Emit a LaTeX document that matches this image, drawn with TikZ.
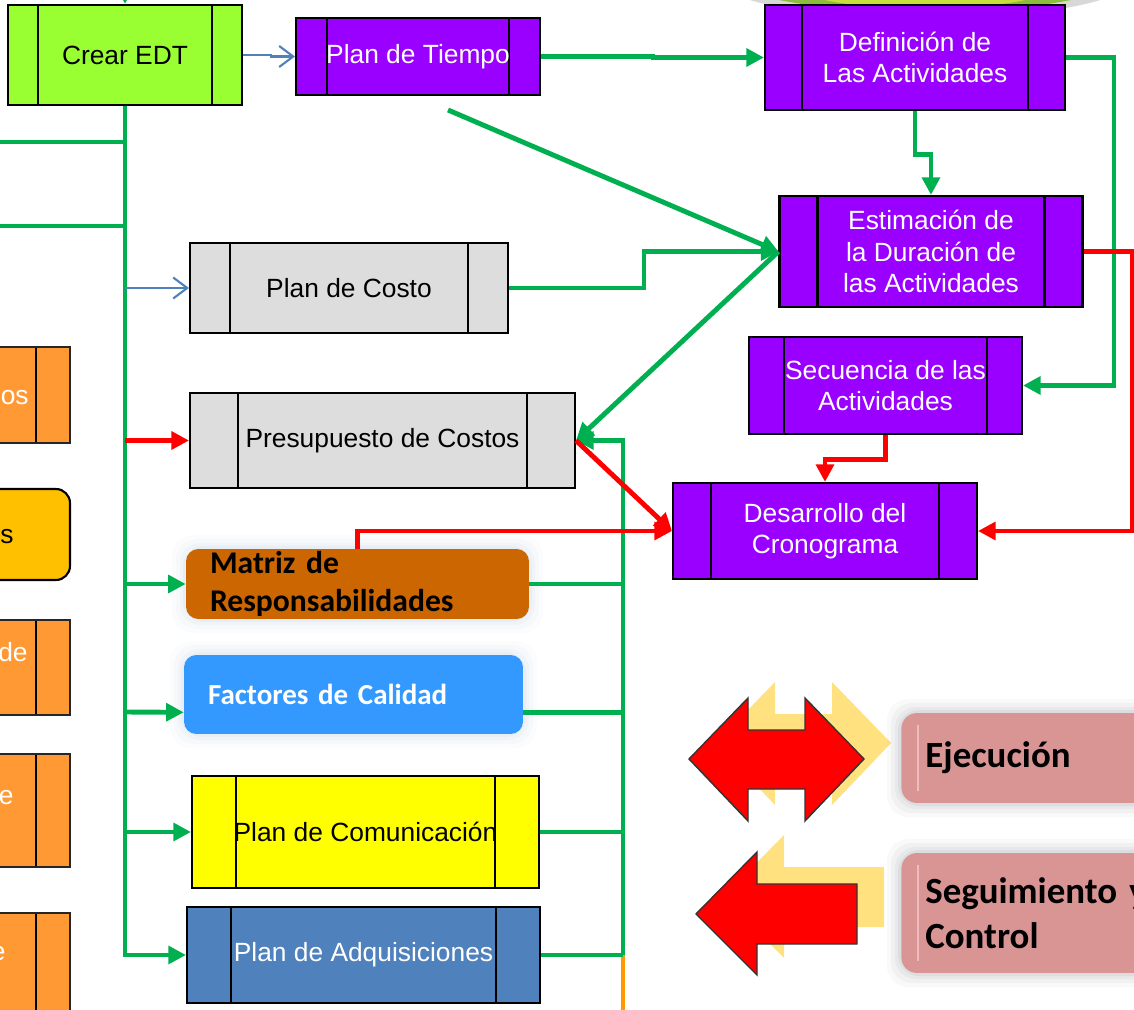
\documentclass[tikz,border=0pt]{standalone}
\usepackage{fontspec}
\setmainfont{Liberation Sans}
\newfontfamily\arialf{Liberation Sans}
\newfontfamily\calib{Carlito}
\usetikzlibrary{arrows.meta}
\definecolor{cGreen}{HTML}{00B050}
\definecolor{cRed}{HTML}{FF0000}
\definecolor{cBlue}{HTML}{4F81BD}
\definecolor{cPurp}{HTML}{9900FF}
\definecolor{cLime}{HTML}{99FF33}
\definecolor{cGray}{HTML}{DDDDDD}
\definecolor{cYel}{HTML}{FFFF00}
\definecolor{cBrn}{HTML}{CC6600}
\definecolor{cSky}{HTML}{3399FF}
\definecolor{cOrg}{HTML}{FF9933}
\definecolor{cGold}{HTML}{FFC000}
\definecolor{cPink}{HTML}{D99594}
\definecolor{cPinkL}{HTML}{ECBDBC}
\definecolor{cShad}{HTML}{FFE17F}
\definecolor{cOrLine}{HTML}{FF9900}
\definecolor{cGlowB}{HTML}{B8C8E0}
\definecolor{cGlowG}{HTML}{8C949C}
\definecolor{cBlobIn}{HTML}{C8DC3C}
\definecolor{cBlobOut}{HTML}{8DBB3E}
\newcommand\myglow[5]{%
  \foreach \r/\o in {14/0.05,10/0.07,6/0.09,3/0.12}{%
    \fill[#5,opacity=\o,rounded corners=12pt] (#1-\r,#2-\r) rectangle (#3+\r,#4+\r);}}
\begin{document}
\begin{tikzpicture}[x=0.02cm,y=-0.02cm,
  proc/.style={draw=black, line width=1.2pt, inner sep=0pt, align=center,
    font=\arialf\fontsize{15}{18}\selectfont,
    path picture={\draw[black,line width=1.2pt]
      ([xshift=#1]path picture bounding box.north west) -- ([xshift=#1]path picture bounding box.south west)
      ([xshift=-#1]path picture bounding box.north east) -- ([xshift=-#1]path picture bounding box.south east);}},
  lpart/.style={draw=black!85, line width=1.2pt, fill=cOrg, inner sep=0pt,
    path picture={\draw[black,line width=1.2pt]
      ([xshift=-#1]path picture bounding box.north east) -- ([xshift=-#1]path picture bounding box.south east);}},
  ltext/.style={anchor=base east, inner sep=0pt, font=\arialf\fontsize{15}{18}\selectfont},
  rbox/.style={rounded corners=7pt, inner xsep=0.48cm, inner ysep=0pt, align=left},
  pinkbox/.style={fill=cPink, rounded corners=9pt, inner xsep=0.48cm, inner ysep=0pt, align=left,
    font=\calib\bfseries\fontsize{21}{25.5}\selectfont},
  g/.style={draw=cGreen, line width=2.8pt},
  ga/.style={g, -{Triangle[length=10pt,width=10pt]}},
  r/.style={draw=cRed, line width=2.8pt},
  ra/.style={r, -{Triangle[length=10pt,width=10pt]}},
  ba/.style={draw=cBlue, line width=1.2pt, -{Straight Barb[length=8pt,width=12pt]}},
]
\path[use as bounding box] (0,0) rectangle (1134,1010);
\clip (0,0) rectangle (1134,1010);
\fill[white] (0,0) rectangle (1134,1010);

% blob at top
\fill[gray,opacity=0.3] (925,-26) ellipse [x radius=4.3cm, y radius=0.9cm];
\fill[cBlobOut] (925,-26) ellipse [x radius=4cm, y radius=0.76cm];
\fill[cBlobIn] (925,-26) ellipse [x radius=3cm, y radius=0.7cm];

% left partial boxes
\node[lpart=0.68cm, minimum width=2.2cm, minimum height=1.92cm] (l1) at (15,395) {};
\node[draw=black, line width=1.2pt, fill=cGold, rounded corners=8pt, inner sep=0pt,
      minimum width=2.2cm, minimum height=1.82cm] (l2) at (15,534.5) {};
\node[lpart=0.68cm, minimum width=2.2cm, minimum height=1.9cm] (l3) at (15,667.5) {};
\node[lpart=0.68cm, minimum width=2.2cm, minimum height=2.26cm] (l4) at (15,810.5) {};
\node[lpart=0.68cm, minimum width=2.2cm, minimum height=2.34cm] (l5) at (15,971.5) {};
\node[ltext, text=white] (t1) at (29,405) {os};
\node[ltext, text=black] (t2) at (14,543) {os};
\node[ltext, text=white] (t3) at (28,662) {de};
\node[ltext, text=white] (t4) at (14,804) {e};
\node[ltext, text=white] (t5) at (6,960) {e};

% process boxes
\node[proc=0.6cm, fill=cLime, minimum width=4.68cm, minimum height=2cm] (edt) at (125,55) {Crear EDT};
\node[proc=0.62cm, fill=cPurp, text=white, minimum width=4.88cm, minimum height=1.54cm] (tiempo) at (418,56.5) {Plan de Tiempo};
\node[proc=0.74cm, fill=cPurp, text=white, minimum width=6cm, minimum height=2.1cm] (defin) at (915,57.5) {Definición de\\Las Actividades};
\node[proc=0.76cm, fill=cPurp, text=white, minimum width=6.06cm, minimum height=2.22cm] (estim) at (931,251.5) {Estimación de\\la Duración de\\las Actividades};
\node[proc=0.8cm, fill=cGray, minimum width=6.36cm, minimum height=1.8cm] (costo) at (349,288) {Plan de Costo};
\node[proc=0.96cm, fill=cGray, minimum width=7.7cm, minimum height=1.9cm] (presup) at (382.5,440.5) {Presupuesto de Costos};
\node[proc=0.7cm, fill=cPurp, text=white, minimum width=5.46cm, minimum height=1.94cm] (secuen) at (885.5,385.5) {Secuencia de las\\Actividades};
\node[proc=0.76cm, fill=cPurp, text=white, minimum width=6.08cm, minimum height=1.92cm] (desarr) at (825,531) {Desarrollo del\\Cronograma};
\node[proc=0.88cm, fill=cYel, minimum width=6.94cm, minimum height=2.24cm] (comun) at (365.5,832) {Plan de Comunicación};
\node[proc=0.88cm, fill=cBlue, text=white, minimum width=7.06cm, minimum height=1.92cm] (adquis) at (363.5,955) {Plan de Adquisiciones};

% rounded boxes with glow
\myglow{186}{549}{529}{619}{cGlowB}
\node[rbox, fill=cBrn, minimum height=1.4cm, text width=5.9cm,
      font=\calib\bfseries\fontsize{18}{21.5}\selectfont] (matriz) at (357.5,584) {Matriz de\\Responsabilidades};
\myglow{184}{655}{523}{734}{cGlowB}
\node[rbox, fill=cSky, text=white, minimum height=1.58cm, text width=5.82cm,
      font=\calib\bfseries\fontsize{16.5}{20}\selectfont] (factores) at (353.5,694.5) {Factores de Calidad};

% left trunk
\coordinate (lb1) at (0,142);
\coordinate (lb2) at (0,226);
\coordinate (ts) at (125,-20);
\draw[ga] (ts) -- (edt.north);
\draw[g] (lb1) -- (lb1 -| edt.south);
\draw[g] (lb2) -- (lb2 -| edt.south);
\draw[ga] (edt.south) |- (adquis.west);
\draw[ga] (edt.south |- comun.west) -- (comun.west);
\draw[ga] (edt.south |- 0,712) -- ([yshift=0.44cm]factores.south west);
\draw[ga] (edt.south |- matriz.west) -- (matriz.west);
\draw[ba] (edt.south |- costo.west) -- (costo.west);
\draw[ra] (edt.south |- presup.west) -- (presup.west);

% right trunk
\coordinate (rt) at (623,440.5);
\coordinate (rb) at (623,1015);
\draw[cOrLine, line width=2.8pt] (rt |- adquis.east) -- (rb);
\draw[g] (matriz.east) -- (matriz.east -| rt);
\draw[g] ([yshift=0.44cm]factores.south east) -- ([yshift=0.44cm]factores.south east -| rt);
\draw[g] (comun.east) -- (comun.east -| rt);
\draw[g] (adquis.east) -- (adquis.east -| rt);
\draw[ga] (rt |- adquis.east) -- (rt) -- (presup.east);

% top connectors
\coordinate (dg) at (448,110);
\draw[ba] (edt.east) -- ++(28,0) |- (tiempo.west);
\draw[ga] (tiempo.east) -- ++(112,0) |- (defin.west);
\draw[ga] (defin.east) -- ++(48,0) |- (secuen.east);
\draw[ga] (defin.south) -- ++(0,43) -| (estim.north);
\draw[ga] (dg) -- (estim.west);
\draw[ga] (costo.east) -- ++(135,0) |- (estim.west);
\draw[ga] (estim.west) -- (presup.east);

% red connectors
\draw[ra] (presup.east) -- (desarr.west);
\draw[ra] (estim.east) -- ++(49,0) |- (desarr.east);
\draw[ra] (secuen.south) -- ++(0,24) -| (desarr.north);
\draw[ra] (matriz.north) |- (desarr.west);

% big arrows
\fill[cShad] (716,743) -- (775,682) -- (775,714) -- (832,714) -- (832,682) -- (891,743) -- (832,805) -- (832,773) -- (775,773) -- (775,805) -- cycle;
\draw[fill=cRed, draw=black!80, line width=0.8pt] (689,759) -- (748,698) -- (748,730) -- (805,730) -- (805,698) -- (864,759) -- (805,821) -- (805,789) -- (748,789) -- (748,821) -- cycle;
\fill[cShad] (723,897) -- (784,835) -- (784,867) -- (884,867) -- (884,927) -- (784,927) -- (784,958) -- cycle;
\draw[fill=cRed, draw=black!80, line width=0.8pt] (696,914) -- (757,852) -- (757,884) -- (857,884) -- (857,944) -- (757,944) -- (757,975) -- cycle;

% pink boxes
\myglow{901}{713}{1200}{803}{cGlowG}
\node[pinkbox, minimum height=1.8cm, text width=5.02cm, anchor=west] (ejec) at (901,758) {Ejecución};
\draw[cPinkL, line width=1pt] ([xshift=0.34cm,yshift=-0.25cm]ejec.north west) -- ([xshift=0.34cm,yshift=0.25cm]ejec.south west);
\myglow{901}{853}{1200}{973}{cGlowG}
\node[pinkbox, minimum height=2.4cm, text width=5.02cm, anchor=west] (segui) at (901,913) {Seguimiento y\\Control};
\draw[cPinkL, line width=1pt] ([xshift=0.34cm,yshift=-0.25cm]segui.north west) -- ([xshift=0.34cm,yshift=0.25cm]segui.south west);
\end{tikzpicture}
\end{document}
